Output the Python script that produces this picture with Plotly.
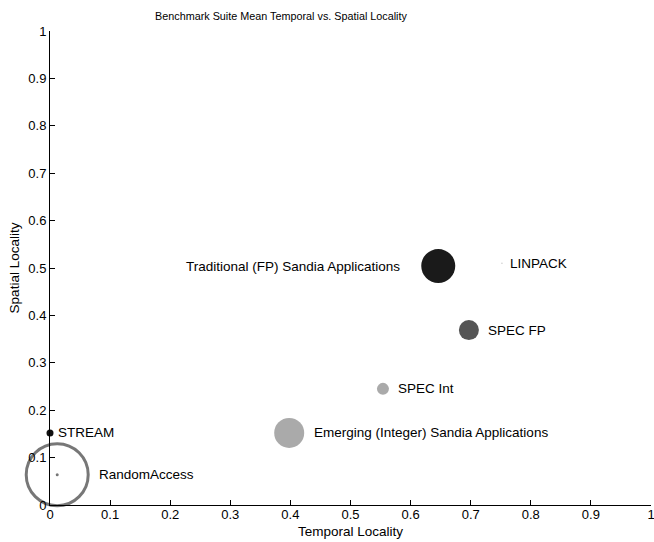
import plotly.graph_objects as go

names = ["Traditional (FP) Sandia Applications", "LINPACK", "SPEC FP", "SPEC Int",
         "Emerging (Integer) Sandia Applications", "STREAM", "RandomAccess"]
temporal = [0.646, 0.752, 0.697, 0.554, 0.398, 0.0, 0.012]
spatial = [0.504, 0.510, 0.369, 0.245, 0.152, 0.152, 0.064]
bubble = [34, 1.5, 20, 12, 30, 7, 3]
colors = ["#1a1a1a", "#cccccc", "#555555", "#aaaaaa", "#aaaaaa", "#111111", "#777777"]

tick_vals = [i / 10 for i in range(11)]
tick_text = ["0", "0.1", "0.2", "0.3", "0.4", "0.5", "0.6", "0.7", "0.8", "0.9", "1"]

# layout/style settings
FONT = "Liberation Sans, Arial"
fs = 13.5
tfs = 13
ring_size = 62
label_side = {"Traditional (FP) Sandia Applications": "left"}
label_gap = {"Traditional (FP) Sandia Applications": 19, "STREAM": 2, "LINPACK": 5}
W, H = 654, 542
ML, MR, MT, MB = 50, 3, 31, 37

fig = go.Figure()
for i, n in enumerate(names):
    fig.add_trace(go.Scatter(
        x=[temporal[i]], y=[spatial[i]], mode="markers",
        marker=dict(size=bubble[i], color=colors[i], line=dict(width=0)),
        cliponaxis=False, showlegend=False, hoverinfo="text", hovertext=[n]))
ra = names.index("RandomAccess")
fig.add_trace(go.Scatter(
    x=[temporal[ra]], y=[spatial[ra]], mode="markers",
    marker=dict(size=ring_size, symbol="circle-open", color="#777777", line=dict(width=3)),
    cliponaxis=False, showlegend=False, hoverinfo="skip"))

for i, n in enumerate(names):
    radius = (ring_size + 3) / 2 if n == "RandomAccess" else bubble[i] / 2
    gap = label_gap.get(n, 7.5)
    side = label_side.get(n, "right")
    shift = radius + gap
    fig.add_annotation(
        x=temporal[i], y=spatial[i], text=n, showarrow=False,
        xanchor="right" if side == "left" else "left", yanchor="middle",
        xshift=-shift if side == "left" else shift,
        font=dict(family=FONT, size=fs, color="black"))

# x-axis title
fig.add_annotation(x=0.5, xref="paper", y=0, yref="paper", yshift=-26,
                   yanchor="middle", borderpad=0, text="Temporal Locality", showarrow=False,
                   font=dict(family=FONT, size=fs, color="black"))

axis_common = dict(range=[0, 1], tickvals=tick_vals, ticktext=tick_text, showgrid=False,
                   zeroline=False, showline=True, linecolor="black", linewidth=1,
                   ticks="inside", ticklen=5, tickcolor="black", automargin=False,
                   ticklabeloverflow="allow",
                   tickfont=dict(family=FONT, size=tfs, color="black"))
fig.update_layout(
    width=W, height=H,
    margin=dict(l=ML, r=MR, t=MT, b=MB, autoexpand=False),
    paper_bgcolor="white", plot_bgcolor="white",
    title=dict(text="Benchmark Suite Mean Temporal vs. Spatial Locality",
               x=281 / W, xref="container", xanchor="center",
               y=1 - 16 / H, yref="container", yanchor="middle",
               font=dict(family=FONT, size=10.8, color="black")),
    xaxis=dict(axis_common, ticklabelstandoff=-3),
    yaxis=dict(axis_common, title=dict(text="Spatial Locality", standoff=5,
               font=dict(family=FONT, size=fs, color="black"))),
)
fig.write_html(
    "out.html",
    config={"displayModeBar": False},
    post_script="document.body.style.margin='0';"
                "document.documentElement.style.overflow='hidden';"
                "document.body.style.overflow='hidden';")
